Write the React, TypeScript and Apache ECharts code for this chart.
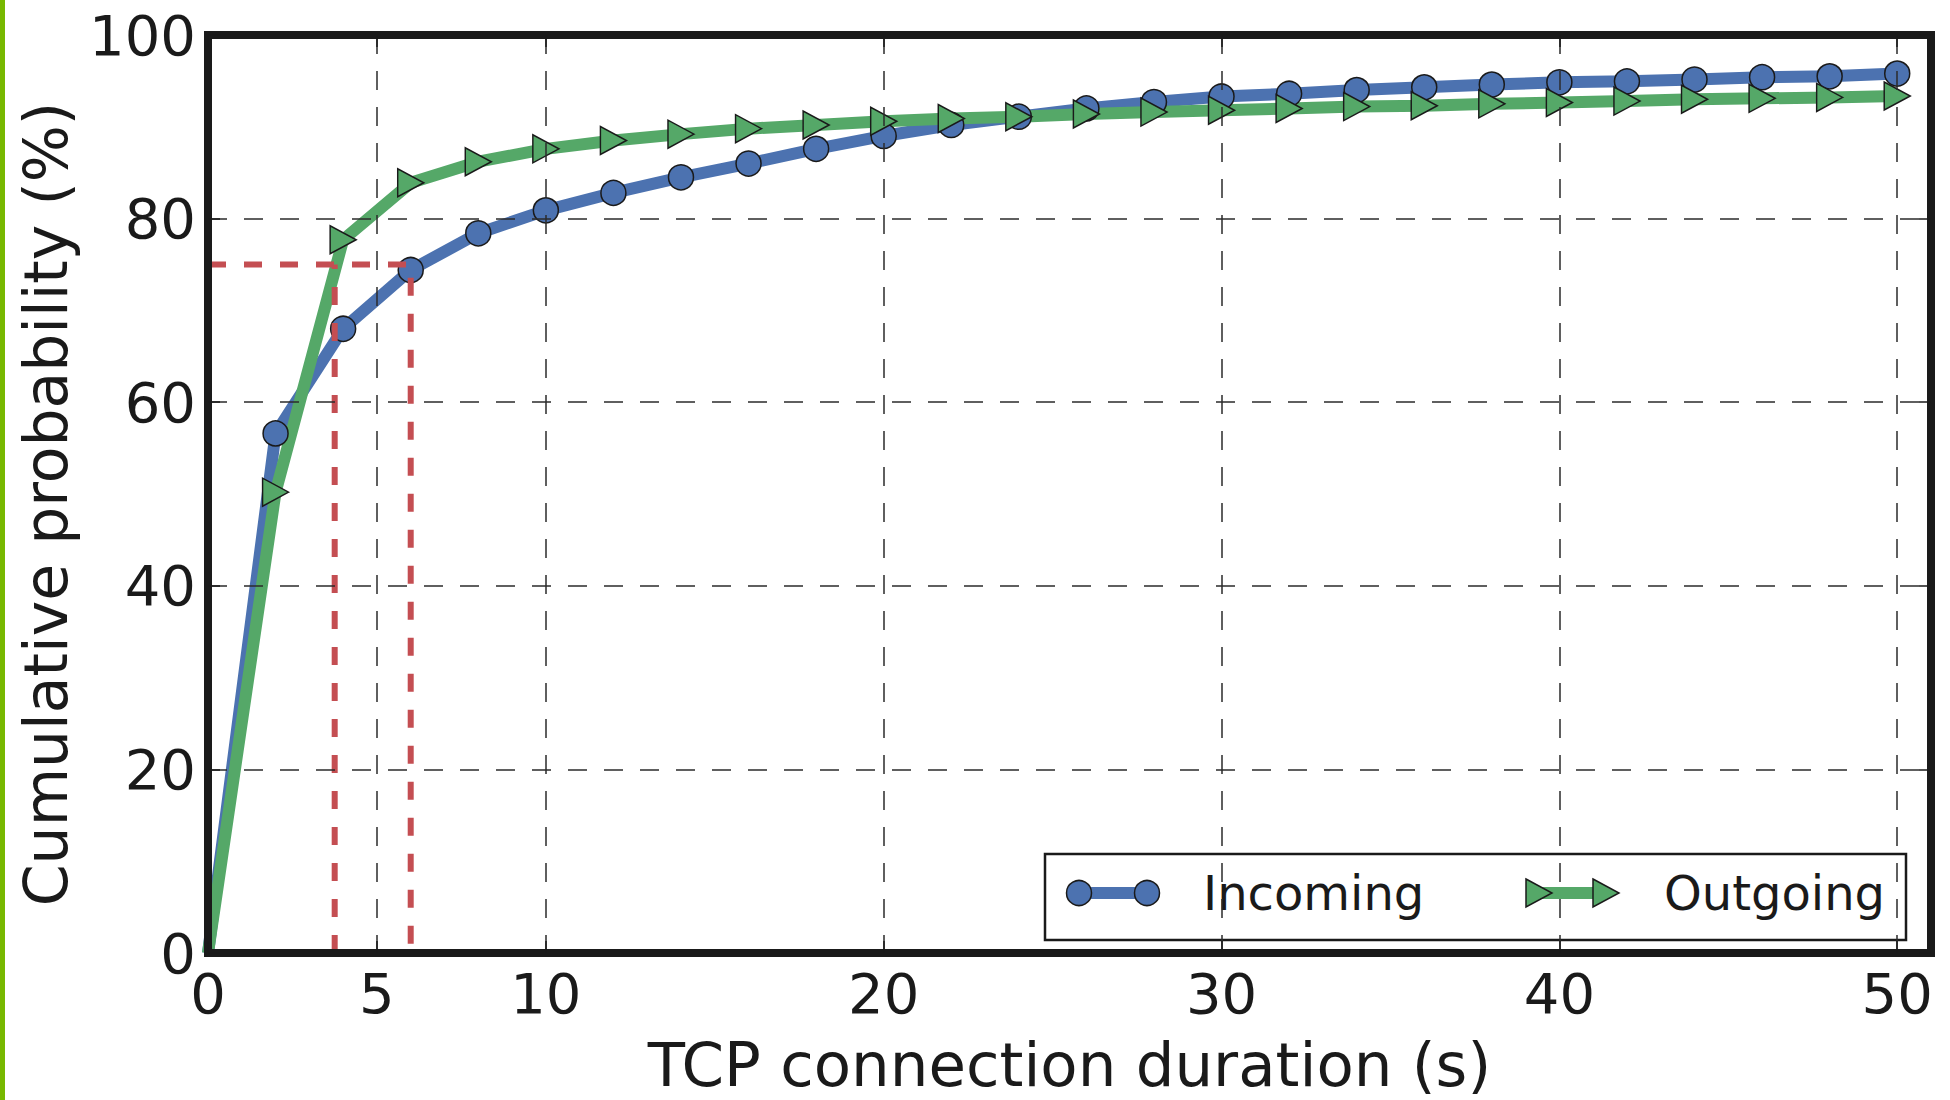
import React, { useEffect, useRef } from "react";
import * as echarts from "echarts";

const xTicks = [0, 5, 10, 20, 30, 40, 50];
const durations = [0, 2, 4, 6, 8, 10, 12, 14, 16, 18, 20, 22, 24, 26, 28, 30, 32, 34, 36, 38, 40, 42, 44, 46, 48, 50];
const incoming = [0, 56.6, 68.0, 74.4, 78.4, 80.9, 82.8, 84.5, 86.0, 87.6, 89.0, 90.2, 91.1, 92.0, 92.7, 93.3, 93.6, 94.0, 94.3, 94.6, 94.85, 94.95, 95.15, 95.4, 95.5, 95.8];
const outgoing = [0, 50.2, 77.7, 83.9, 86.2, 87.6, 88.5, 89.2, 89.8, 90.2, 90.6, 90.9, 91.1, 91.4, 91.6, 91.8, 92.0, 92.2, 92.3, 92.5, 92.65, 92.8, 93.0, 93.1, 93.2, 93.35];
const p75Level = 75;
const outgoingP75 = 3.75;
const incomingP75 = 6;

const FONT = "DejaVu Sans";
const INK = "#1a1a1a";
const BLUE = "#4c72b0";
const GREEN = "#55a868";
const RED = "#c44e52";

// The point at the origin sits on the frame corner; its marker is hidden by the (clipped) axes in the original.
const toData = (ys: number[]) =>
  durations.map((x, i) => (x === 0 ? { value: [x, ys[i]], symbol: "none" } : [x, ys[i]]));

export default function App() {
  const ref = useRef<HTMLDivElement>(null);
  useEffect(() => {
    document.body.style.margin = "0";
    const chart = echarts.init(ref.current!, null, { renderer: "svg" });
    const axisLine = { show: true, onZero: false, lineStyle: { color: INK, width: 8, cap: "square" } };
    const tick = { show: true, inside: true, length: 12, lineStyle: { color: INK, width: 1.5 } };
    const grid = { show: true, lineStyle: { color: "#2b2b2b", width: 1.5, type: [19, 17] } };
    const label = { fontSize: 56, color: INK, fontFamily: FONT };
    const nameStyle = { fontSize: 60, color: INK, fontFamily: FONT };

    const legendY = 893;
    const tri = (cx: number, cy: number) => ({
      type: "polygon",
      shape: { points: [[cx - 13, cy - 14], [cx + 13, cy], [cx - 13, cy + 14]] },
      style: { fill: GREEN, stroke: INK, lineWidth: 1.5 },
    });

    chart.setOption({
      animation: false,
      backgroundColor: "#ffffff",
      grid: { left: 208, right: 19, top: 35, bottom: 137 },
      xAxis: [
        {
          type: "value", min: 0, max: 51, position: "bottom", z: 10,
          axisLine, axisTick: { ...tick, customValues: xTicks },
          axisLabel: { ...label, customValues: xTicks, margin: 12 },
          splitLine: grid,
          name: "TCP connection duration (s)", nameLocation: "middle", nameGap: 81,
          nameTextStyle: { ...nameStyle, fontSize: 61 },
        },
        {
          type: "value", min: 0, max: 51, position: "top", z: 10,
          axisLine, axisTick: { ...tick, customValues: xTicks },
          axisLabel: { show: false }, splitLine: { show: false },
        },
      ],
      yAxis: [
        {
          type: "value", min: 0, max: 100, interval: 20, position: "left", z: 10,
          axisLine, axisTick: tick,
          axisLabel: { ...label, margin: 12, padding: [0, 0, 8, 0] },
          splitLine: grid,
          name: "Cumulative probability (%)", nameLocation: "middle", nameGap: 132,
          nameTextStyle: { ...nameStyle, padding: [0, 20, 0, 0] },
        },
        {
          type: "value", min: 0, max: 100, interval: 20, position: "right", z: 10,
          axisLine, axisTick: tick,
          axisLabel: { show: false }, splitLine: { show: false },
        },
      ],
      series: [
        {
          name: "Incoming", type: "line", xAxisIndex: 0, yAxisIndex: 0,
          data: toData(incoming),
          symbol: "circle", symbolSize: 25, showSymbol: true, showAllSymbol: true,
          lineStyle: { color: BLUE, width: 12 },
          itemStyle: { color: BLUE, borderColor: INK, borderWidth: 1.5 },
          z: 3, silent: true,
        },
        {
          name: "Outgoing", type: "line", xAxisIndex: 0, yAxisIndex: 0,
          data: toData(outgoing),
          symbol: "triangle", symbolSize: [28, 26], symbolRotate: -90, showSymbol: true, showAllSymbol: true,
          lineStyle: { color: GREEN, width: 12 },
          itemStyle: { color: GREEN, borderColor: INK, borderWidth: 1.5 },
          z: 3, silent: true,
        },
        {
          name: "p75-incoming", type: "line", xAxisIndex: 0, yAxisIndex: 0,
          data: [[0, p75Level], [incomingP75, p75Level], [incomingP75, 0]],
          symbol: "none", lineStyle: { color: RED, width: 6, type: [18, 18] },
          z: 5, silent: true,
        },
        {
          name: "p75-outgoing", type: "line", xAxisIndex: 0, yAxisIndex: 0,
          data: [[outgoingP75, 0], [outgoingP75, p75Level]],
          symbol: "none", lineStyle: { color: RED, width: 6, type: [18, 18] },
          z: 5, silent: true,
        },
      ],
      graphic: [
        { type: "rect", shape: { x: 0, y: 0, width: 5, height: 1100 }, style: { fill: "#77b800" }, z: 100 },
        {
          type: "group", z: 100,
          children: [
            { type: "rect", shape: { x: 1045, y: 854, width: 861, height: 86 }, style: { fill: "#ffffff", stroke: INK, lineWidth: 2.5 } },
            { type: "line", shape: { x1: 1079, y1: legendY, x2: 1147, y2: legendY }, style: { stroke: BLUE, lineWidth: 12 } },
            { type: "circle", shape: { cx: 1079, cy: legendY, r: 12.5 }, style: { fill: BLUE, stroke: INK, lineWidth: 1.5 } },
            { type: "circle", shape: { cx: 1147, cy: legendY, r: 12.5 }, style: { fill: BLUE, stroke: INK, lineWidth: 1.5 } },
            { type: "text", x: 1203, y: legendY, style: { text: "Incoming", fontSize: 48, fontFamily: FONT, fill: INK, verticalAlign: "middle", align: "left" } },
            { type: "line", shape: { x1: 1539, y1: legendY, x2: 1606, y2: legendY }, style: { stroke: GREEN, lineWidth: 12 } },
            tri(1539, legendY),
            tri(1606, legendY),
            { type: "text", x: 1664, y: legendY, style: { text: "Outgoing", fontSize: 48, fontFamily: FONT, fill: INK, verticalAlign: "middle", align: "left" } },
          ],
        },
      ],
    });
    return () => chart.dispose();
  }, []);
  return <div ref={ref} style={{ position: "fixed", left: 0, top: 0, width: 1950, height: 1100 }} />;
}
